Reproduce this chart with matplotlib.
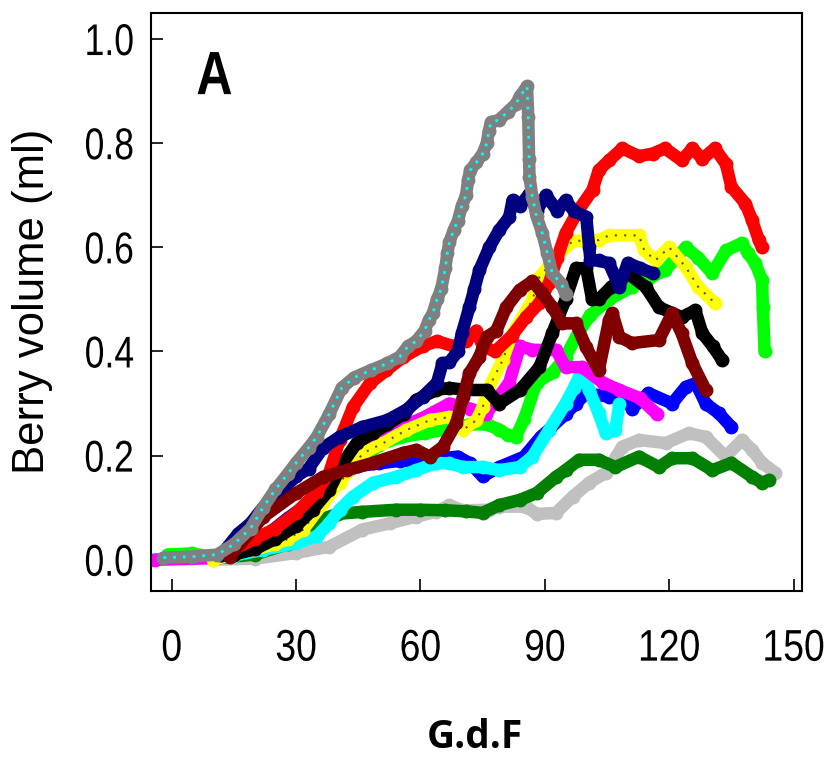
import matplotlib
matplotlib.use("Agg")
import matplotlib.pyplot as plt
from matplotlib.patheffects import AbstractPathEffect
from matplotlib.transforms import Affine2D

# berry volume curves (x = G.d.F, y = ml)
silver_x = [10, 20, 30, 38, 46, 52.6, 59, 63.8, 67, 70, 76.6, 79, 85.5, 88, 92.7, 96.7, 100.7, 104.7,
            108.7, 112.7, 119.2, 124.7, 128.8, 133.6, 137.6, 140, 142.4, 145.6]
silver_y = [0.0, 0.002, 0.013, 0.025, 0.058, 0.07, 0.083, 0.092, 0.105, 0.095, 0.096, 0.102, 0.102, 0.088,
            0.09, 0.121, 0.148, 0.167, 0.217, 0.23, 0.224, 0.243, 0.236, 0.198, 0.23, 0.211, 0.186, 0.167]

dgreen_x = [10, 20, 28, 32, 35, 40, 46, 54, 60, 66, 71, 75, 79, 84, 88, 92.7, 95, 98.3, 103, 107, 112.7,
            117.5, 120.7, 125.6, 130.4, 135, 140, 142.4, 144]
dgreen_y = [0.002, 0.01, 0.03, 0.055, 0.075, 0.088, 0.092, 0.096, 0.096, 0.095, 0.093, 0.09, 0.105, 0.115,
            0.128, 0.159, 0.172, 0.192, 0.192, 0.178, 0.198, 0.178, 0.195, 0.195, 0.172, 0.186, 0.159, 0.148, 0.153]

blue_x = [10, 20, 28, 35, 40, 45, 50, 55, 60, 65, 69, 72, 75, 79, 85, 89, 91, 95, 97.5, 100, 105.5, 109,
          111, 115, 120.7, 124, 126.4, 128.8, 132, 135]
blue_y = [0.003, 0.03, 0.08, 0.12, 0.16, 0.18, 0.185, 0.19, 0.19, 0.195, 0.198, 0.185, 0.16, 0.178, 0.198,
          0.236, 0.25, 0.28, 0.3, 0.32, 0.313, 0.32, 0.29, 0.32, 0.3, 0.332, 0.339, 0.3, 0.281, 0.255]

cyan_x = [-5, 5, 15, 22, 30, 35, 38, 40.5, 43.7, 48.6, 54.2, 59, 63.8, 67, 70.2, 75, 79, 83.9, 87, 91, 95,
          97, 99, 100.7, 103, 104.7, 107, 108]
cyan_y = [0.0, 0.003, 0.008, 0.019, 0.032, 0.045, 0.07, 0.096, 0.121, 0.148, 0.159, 0.172, 0.186, 0.185,
          0.178, 0.178, 0.172, 0.178, 0.198, 0.249, 0.3, 0.33, 0.364, 0.326, 0.281, 0.243, 0.249, 0.3]

lime_x = [-1, 5, 10, 20, 30, 40, 50, 55, 61, 66, 72, 76, 79, 81, 83, 85, 88, 92, 95, 98, 101, 105.5, 111,
          112.7, 115, 119, 124, 127, 130.4, 133.7, 137.5, 139, 140.8, 142.4, 142.6, 143]
lime_y = [0.01, 0.012, 0.005, 0.02, 0.08, 0.15, 0.22, 0.235, 0.243, 0.25, 0.26, 0.26, 0.25, 0.24, 0.236,
          0.27, 0.34, 0.36, 0.39, 0.435, 0.47, 0.5, 0.524, 0.55, 0.54, 0.556, 0.6, 0.58, 0.55, 0.594, 0.608,
          0.589, 0.569, 0.537, 0.485, 0.4]

magenta_x = [-4, 10, 20, 30, 35, 40, 46, 52.5, 60, 67, 72, 75.8, 81.4, 84, 87, 92.7, 95, 99, 104, 108,
             113, 117]
magenta_y = [0.0, 0.003, 0.02, 0.07, 0.1, 0.15, 0.205, 0.249, 0.27, 0.3, 0.29, 0.28, 0.34, 0.41, 0.403,
             0.403, 0.37, 0.37, 0.34, 0.326, 0.31, 0.28]

yellow_x = [10, 20, 25, 28, 31.7, 36.5, 40.5, 46.2, 51, 56.6, 62.2, 67, 70.2, 73.5, 75, 76.6, 79.8, 82.2,
            84.6, 87, 88.7, 92.7, 96.7, 103, 105.5, 112.7, 114, 116.7, 120, 124, 127, 131]
yellow_y = [0.0, 0.02, 0.03, 0.04, 0.058, 0.109, 0.148, 0.205, 0.224, 0.249, 0.268, 0.274, 0.249, 0.268,
            0.293, 0.332, 0.383, 0.435, 0.466, 0.499, 0.543, 0.581, 0.612, 0.614, 0.623, 0.623, 0.594, 0.575,
            0.6, 0.562, 0.524, 0.493]

black_x = [15, 20, 25, 30, 34, 38, 41.3, 44.6, 48.5, 52, 56, 59, 63.8, 67, 71, 76, 79, 84, 88.7, 91.8, 95,
           97.5, 100, 101.4, 103, 106, 110, 114.3, 117.5, 123, 126.3, 128, 130.5, 132.8]
black_y = [0.01, 0.02, 0.04, 0.065, 0.096, 0.134, 0.186, 0.224, 0.243, 0.26, 0.28, 0.307, 0.326, 0.33,
           0.326, 0.326, 0.3, 0.326, 0.37, 0.435, 0.5, 0.56, 0.56, 0.5, 0.5, 0.524, 0.55, 0.524, 0.485, 0.466,
           0.479, 0.435, 0.41, 0.383]

red_x = [12, 15, 20, 25, 30, 35, 38, 40.5, 43.7, 47.8, 51.8, 55.8, 60.5, 64, 68, 71, 73.5, 75, 78, 82,
         85.5, 88.7, 91, 93, 95, 98, 101.5, 103, 105.5, 108.7, 112.7, 116, 119, 123, 125.6, 128, 131, 133.7,
         135, 138.4, 140, 141.6, 142.4]
red_y = [0.01, 0.02, 0.04, 0.06, 0.09, 0.13, 0.167, 0.23, 0.293, 0.339, 0.364, 0.389, 0.41, 0.42, 0.41,
         0.42, 0.44, 0.41, 0.4, 0.43, 0.466, 0.493, 0.531, 0.58, 0.627, 0.67, 0.71, 0.748, 0.767, 0.79, 0.775,
         0.78, 0.79, 0.767, 0.79, 0.77, 0.79, 0.76, 0.716, 0.684, 0.652, 0.614, 0.6]

navy_x = [12, 16, 19, 22, 26, 30, 33, 36.5, 40.5, 46, 52, 56.6, 60.5, 64, 65.3, 67, 69, 70, 71.8, 73, 74.2,
          76.6, 79, 81.4, 82.2, 84, 86.3, 88, 90.3, 93, 95, 97, 100, 100.7, 101, 103, 105.5, 108, 110, 113,
          116]
navy_y = [0.01, 0.05, 0.07, 0.1, 0.13, 0.16, 0.175, 0.215, 0.236, 0.255, 0.268, 0.288, 0.313, 0.34, 0.377,
          0.38, 0.4, 0.435, 0.485, 0.52, 0.556, 0.6, 0.633, 0.658, 0.69, 0.68, 0.703, 0.67, 0.7, 0.67, 0.69,
          0.67, 0.658, 0.6, 0.575, 0.575, 0.569, 0.524, 0.57, 0.56, 0.55]

maroon_x = [14, 22, 30, 36.5, 42.2, 48.5, 55.8, 59, 62.2, 65.4, 68.6, 70.3, 71.8, 74.2, 76, 78.3, 80.7,
            83.9, 87, 89.4, 91.8, 94.2, 97.5, 99.9, 103, 105.5, 106.3, 108, 111, 117.5, 120.7, 123, 125.6,
            128.8]
maroon_y = [0.006, 0.082, 0.128, 0.159, 0.172, 0.186, 0.205, 0.211, 0.198, 0.217, 0.262, 0.313, 0.358,
            0.39, 0.428, 0.44, 0.485, 0.518, 0.535, 0.512, 0.485, 0.454, 0.454, 0.409, 0.364, 0.46, 0.473,
            0.428, 0.416, 0.422, 0.473, 0.435, 0.377, 0.326]

grey_x = [-2, 5, 11, 15, 19, 22, 25, 28, 30, 33, 35, 38, 41, 44, 48, 52, 55, 57, 59, 61, 62, 63, 64, 65,
          66, 66.5, 67, 68, 69, 70, 71, 71.5, 72, 73.5, 75, 76, 76.5, 77, 79, 81, 83, 84, 85.7, 86, 86.2,
          86.3, 87, 88, 89.4, 90.6, 91.8, 94, 95]
grey_y = [0.004, 0.006, 0.01, 0.03, 0.06, 0.1, 0.135, 0.165, 0.186, 0.215, 0.236, 0.28, 0.33, 0.35, 0.364,
          0.377, 0.39, 0.41, 0.42, 0.44, 0.46, 0.474, 0.5, 0.52, 0.56, 0.59, 0.61, 0.633, 0.65, 0.68, 0.7,
          0.73, 0.748, 0.763, 0.78, 0.8, 0.824, 0.84, 0.845, 0.86, 0.875, 0.89, 0.909, 0.85, 0.77, 0.735,
          0.696, 0.66, 0.627, 0.589, 0.55, 0.53, 0.51]

xticks = [0, 30, 60, 90, 120, 150]
yticks = [0.0, 0.2, 0.4, 0.6, 0.8, 1.0]


class Condensed(AbstractPathEffect):
    """rescale glyphs (narrow/tall font look); x about centre or right edge, y about baseline"""
    def __init__(self, sx=0.8, sy=1.0, anchor='center'):
        super().__init__()
        self.sx = sx
        self.sy = sy
        self.anchor = anchor

    def draw_path(self, renderer, gc, tpath, affine, rgbFace=None):
        ext = tpath.get_extents()
        if self.anchor == 'right':
            x0 = ext.x1
        else:
            x0 = (ext.x0 + ext.x1) / 2
        t = Affine2D().translate(-x0, 0).scale(self.sx, self.sy).translate(x0, 0) + affine
        renderer.draw_path(gc, tpath, t, rgbFace)


sans = ['Liberation Sans', 'DejaVu Sans']

fig = plt.figure(figsize=(8.27, 7.57), dpi=100)
ax = fig.add_axes([0.1826, 0.2193, 0.787, 0.7635])

# plain coloured bands, bottom to top
series = [(silver_x, silver_y, '#c0c0c0'),
          (dgreen_x, dgreen_y, '#008000'),
          (blue_x, blue_y, '#0000ff'),
          (cyan_x, cyan_y, '#00ffff'),
          (lime_x, lime_y, '#00ff00'),
          (magenta_x, magenta_y, '#ff00ff'),
          (yellow_x, yellow_y, '#ffff00'),
          (black_x, black_y, '#000000'),
          (red_x, red_y, '#ff0000'),
          (navy_x, navy_y, '#000080'),
          (maroon_x, maroon_y, '#800000'),
          (grey_x, grey_y, '#808080')]

for xs, ys, c in series:
    ax.plot(xs, ys, color=c, lw=9, solid_capstyle='round', solid_joinstyle='round',
            marker='o', ms=9, mec=c, mfc=c)
    # the dotted-looking series
    if c == '#ffff00':
        ax.plot(xs, ys, color='#555555', lw=1.5, ls=(0, (1, 3.5)))
    if c == '#808080':
        ax.plot(xs, ys, color='#00ffff', lw=2, ls=(0, (1, 2.5)))

ax.set_xlim(-5, 152)
ax.set_ylim(-0.06, 1.05)
ax.set_xticks(xticks)
ax.set_yticks(yticks)
ax.set_xticklabels([str(t) for t in xticks], family=sans, fontsize=28)
ax.set_yticklabels(['%.1f' % t for t in yticks], family=sans, fontsize=32)
for lab in ax.get_xticklabels():
    lab.set_path_effects([Condensed(0.96, 1.14)])
for lab in ax.get_yticklabels():
    lab.set_path_effects([Condensed(0.8, 1.0, 'right')])
ax.tick_params(axis='both', direction='in', length=8.5, width=1.2, color='black')
ax.tick_params(axis='x', pad=30)
ax.tick_params(axis='y', pad=12)
for sp in ax.spines.values():
    sp.set_linewidth(1.5)

ax.text(10.3, 0.924, 'A', family=sans, fontsize=44, fontweight='bold', ha='center', va='center',
        path_effects=[Condensed(0.82)])

fig.text(33 / 827, 1 - 301 / 757, 'Berry volume (ml)', rotation=90, ha='center', va='center',
         family=sans, fontsize=31.5)
fig.text(475 / 827, 1 - 748 / 757, 'G.d.F', ha='center', va='baseline',
         family=['Open Sans', 'DejaVu Sans'], fontweight='bold', fontsize=28)

plt.savefig('out.png', dpi=100)
